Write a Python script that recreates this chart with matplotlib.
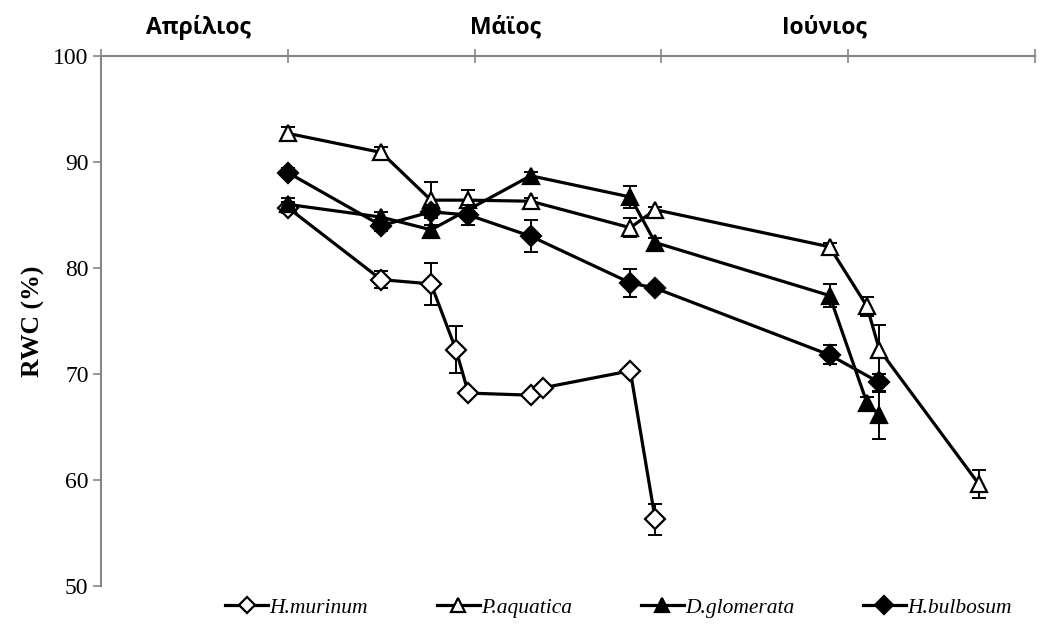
"""RWC (%) time course for four grass species, spring season."""
import matplotlib
matplotlib.use("Agg")
import matplotlib.pyplot as plt
import matplotlib.transforms as mtransforms

SERIF = "Liberation Serif"
SANS = "Open Sans"
GREY = "#868686"

# days counted from the first axis tick (30 days per tick interval)
MONTHS = ["Απρίλιος", "Μάϊος", "Ιούνιος"]
MONTH_POS = [15.6, 65.0, 116.2]

SPECIES = ["H.murinum", "P.aquatica", "D.glomerata", "H.bulbosum"]

days_mur = [30, 45, 53, 57, 59, 69, 71, 85, 89]
rwc_mur = [85.7, 78.9, 78.5, 72.3, 68.2, 68.0, 68.7, 70.3, 56.3]
err_mur = [0.5, 0.8, 2.0, 2.2, 0.3, 0.3, 0.4, 0.3, 1.45]

days_aq = [30, 45, 53, 59, 69, 85, 89, 117, 123, 125, 141]
rwc_aq = [92.7, 90.9, 86.4, 86.4, 86.3, 83.8, 85.5, 82.0, 76.4, 72.3, 59.6]
err_aq = [0.6, 0.5, 1.7, 1.0, 0.3, 0.9, 0.3, 0.4, 0.9, 2.3, 1.3]

days_dg = [30, 45, 53, 69, 85, 89, 117, 123, 125]
rwc_dg = [86.0, 84.8, 83.6, 88.7, 86.7, 82.4, 77.4, 67.3, 66.1]
err_dg = [0.6, 0.5, 0.5, 0.4, 1.0, 0.4, 1.1, 0.5, 2.2]

days_hb = [30, 45, 53, 59, 69, 85, 89, 117, 125]
rwc_hb = [89.0, 84.0, 85.3, 85.0, 83.0, 78.6, 78.1, 71.8, 69.2]
err_hb = [0.4, 0.5, 0.6, 0.9, 1.5, 1.3, 0.3, 0.9, 0.8]

STYLE = {
    "H.murinum": dict(marker="D", mfc="white", ms=10),
    "P.aquatica": dict(marker="^", mfc="white", ms=12),
    "D.glomerata": dict(marker="^", mfc="black", ms=12),
    "H.bulbosum": dict(marker="D", mfc="black", ms=10.5),
}


def main() -> None:
    series = [
        (days_mur, rwc_mur, err_mur),
        (days_aq, rwc_aq, err_aq),
        (days_dg, rwc_dg, err_dg),
        (days_hb, rwc_hb, err_hb),
    ]
    fig = plt.figure(figsize=(10.48, 6.32), dpi=100)
    ax = fig.add_axes([0.0964, 0.0728, 0.8912, 0.8386])

    handles = []
    for z, (name, (x, y, e)) in enumerate(zip(SPECIES, series)):
        ax.errorbar(x, y, yerr=e, fmt="none", ecolor="black", elinewidth=1.4,
                    capsize=5, capthick=1.4, zorder=2 + z)
        st = STYLE[name]
        (ln,) = ax.plot(x, y, color="black", lw=2.3, marker=st["marker"],
                        ms=st["ms"], mfc=st["mfc"], mec="black", mew=1.6,
                        label=name, zorder=3 + z)
        handles.append(ln)

    ax.set_xlim(0, 150)
    ax.set_ylim(50, 100)
    ax.set_xticks(range(0, 151, 30))
    ax.set_xticklabels([])
    ax.set_yticks(range(50, 101, 10))
    ax.xaxis.set_ticks_position("top")
    ax.tick_params(axis="x", direction="inout", length=10, width=1.2, color=GREY)
    ax.tick_params(axis="y", direction="out", length=5.5, width=1.2, color=GREY,
                   labelsize=17, pad=3.5)
    for lbl in ax.get_yticklabels():
        lbl.set_fontfamily(SERIF)
    for side in ("bottom", "right"):
        ax.spines[side].set_visible(False)
    for side in ("top", "left"):
        ax.spines[side].set_color(GREY)
        ax.spines[side].set_linewidth(1.5)

    trans = mtransforms.blended_transform_factory(ax.transData, ax.transAxes)
    for name, pos in zip(MONTHS, MONTH_POS):
        ax.text(pos, 1.053, name, transform=trans, ha="center", va="center",
                fontsize=16.5, fontweight="bold", family=SANS)

    ax.set_ylabel("RWC (%)", family=SERIF, fontsize=18.5, fontweight="bold",
                  labelpad=6)

    fig.legend(handles=handles, loc="center", bbox_to_anchor=(0.59, 0.038),
               ncol=4, frameon=False, handlelength=2.0, handletextpad=0.05,
               columnspacing=3.2, markerscale=0.85,
               prop=dict(family=SERIF, style="italic", size=15.5))

    fig.savefig("out.png", dpi=100)
    plt.close(fig)


if __name__ == "__main__":
    main()
